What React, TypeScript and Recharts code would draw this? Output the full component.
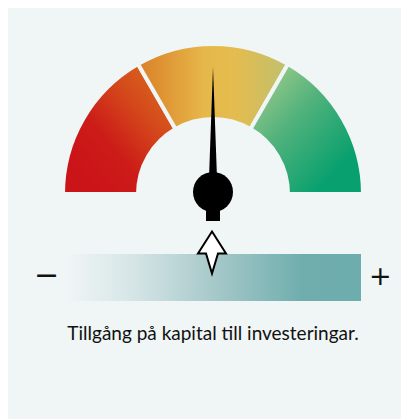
import { PieChart, Pie, Cell, BarChart, Bar, XAxis, YAxis, ReferenceDot } from 'recharts'

// gauge zones (equal thirds) and the needle reading
const zones = ['låg', 'medel', 'hög']
const zoneSizes = [1, 1, 1]
const gaugeMax = 100
const needleValue = 50

// scale bar below the gauge
const barCategory = 'Tillgång på kapital till investeringar.'
const barValues = [100]
const markerValue = 50

const BG = '#f0f5f5'
const CX = 205
const CY = 186

const pieData = zones.map((name, i) => ({ name, value: zoneSizes[i] }))
const barData = [{ name: barCategory, value: barValues[0] }]

function Needle() {
  const angle = (Math.PI * (180 - (needleValue / gaugeMax) * 180)) / 180
  const len = 125
  const w = 4.5
  const px = CX
  const py = CY - 2
  const tx = px + len * Math.cos(angle)
  const ty = py - len * Math.sin(angle)
  const nx = Math.sin(angle) * w
  const ny = Math.cos(angle) * w
  return (
    <svg width={401} height={230} style={{ position: 'absolute', left: 0, top: 0 }}>
      <path d={`M${px - nx},${py - ny} L${tx},${ty} L${px + nx},${py + ny} Z`} fill="#000" />
      <rect x={px - 7} y={py + 14} width={14} height={15} fill="#000" />
      <circle cx={px} cy={py} r={20} fill="#000" />
    </svg>
  )
}

function Arrow(props: any) {
  const { cx, cy } = props
  const top = cy - 46
  const head = cy - 24
  const bottom = cy - 4
  return (
    <path
      d={`M${cx},${top} L${cx + 14},${head} L${cx + 6},${head} L${cx},${bottom} L${cx - 6},${head} L${cx - 14},${head} Z`}
      fill="#fff"
      stroke="#000"
      strokeWidth={2}
      strokeLinejoin="miter"
    />
  )
}

const textStyle: React.CSSProperties = {
  position: 'absolute',
  fontFamily: 'Lato, sans-serif',
  color: '#111',
  lineHeight: 1,
}

const signStyle: React.CSSProperties = {
  ...textStyle,
  fontFamily: 'DejaVu Sans, sans-serif',
}

export default function App() {
  return (
    <div style={{ position: 'relative', width: 401, height: 411, background: BG, overflow: 'hidden' }}>
      <div style={{ position: 'absolute', left: 0, top: 0 }}>
        <PieChart width={401} height={230} margin={{ top: 0, right: 0, bottom: 0, left: 0 }}>
          <defs>
            <linearGradient id="gLow" x1="0.15" y1="0.8" x2="0.9" y2="0.05">
              <stop offset="0%" stopColor="#cb1418" />
              <stop offset="30%" stopColor="#cc1c18" />
              <stop offset="65%" stopColor="#d4481b" />
              <stop offset="100%" stopColor="#da6a1e" />
            </linearGradient>
            <linearGradient id="gMid" x1="0" y1="0" x2="1" y2="0">
              <stop offset="0%" stopColor="#db8027" />
              <stop offset="45%" stopColor="#e6b84a" />
              <stop offset="65%" stopColor="#e4bc4f" />
              <stop offset="100%" stopColor="#c0c06e" />
            </linearGradient>
            <linearGradient id="gHigh" x1="0.05" y1="0.1" x2="0.75" y2="0.85">
              <stop offset="0%" stopColor="#a0cc8c" />
              <stop offset="45%" stopColor="#52b27c" />
              <stop offset="100%" stopColor="#07a06e" />
            </linearGradient>
          </defs>
          <Pie
            data={pieData}
            dataKey="value"
            cx={CX}
            cy={CY}
            startAngle={180}
            endAngle={0}
            innerRadius={75}
            outerRadius={150}
            stroke={BG}
            strokeWidth={4}
            isAnimationActive={false}
          >
            <Cell fill="url(#gLow)" />
            <Cell fill="url(#gMid)" />
            <Cell fill="url(#gHigh)" />
          </Pie>
        </PieChart>
      </div>
      <Needle />
      <div style={{ position: 'absolute', left: 0, top: 220 }}>
        <BarChart
          layout="vertical"
          data={barData}
          width={401}
          height={99}
          margin={{ top: 0, right: 48, bottom: 0, left: 55 }}
        >
          <defs>
            <linearGradient id="gBar" x1="0" y1="0" x2="1" y2="0">
              <stop offset="0%" stopColor="#f2f6f7" />
              <stop offset="25%" stopColor="#d3e4e5" />
              <stop offset="50%" stopColor="#a8c9ca" />
              <stop offset="80%" stopColor="#70aeae" />
              <stop offset="100%" stopColor="#6eadad" />
            </linearGradient>
          </defs>
          <XAxis type="number" domain={[0, 100]} hide />
          <YAxis type="category" dataKey="name" hide width={0} />
          <Bar dataKey="value" fill="url(#gBar)" barSize={47} isAnimationActive={false} />
          <ReferenceDot x={markerValue} y={barCategory} r={0} shape={Arrow} ifOverflow="visible" />
        </BarChart>
      </div>
      <div style={{ ...signStyle, left: 26, top: 252, fontSize: 30 }}>−</div>
      <div style={{ ...signStyle, left: 361, top: 254, fontSize: 27 }}>+</div>
      <div style={{ ...textStyle, left: 0, width: 410, top: 315, fontSize: 19, textAlign: 'center' }}>
        {barCategory}
      </div>
    </div>
  )
}
